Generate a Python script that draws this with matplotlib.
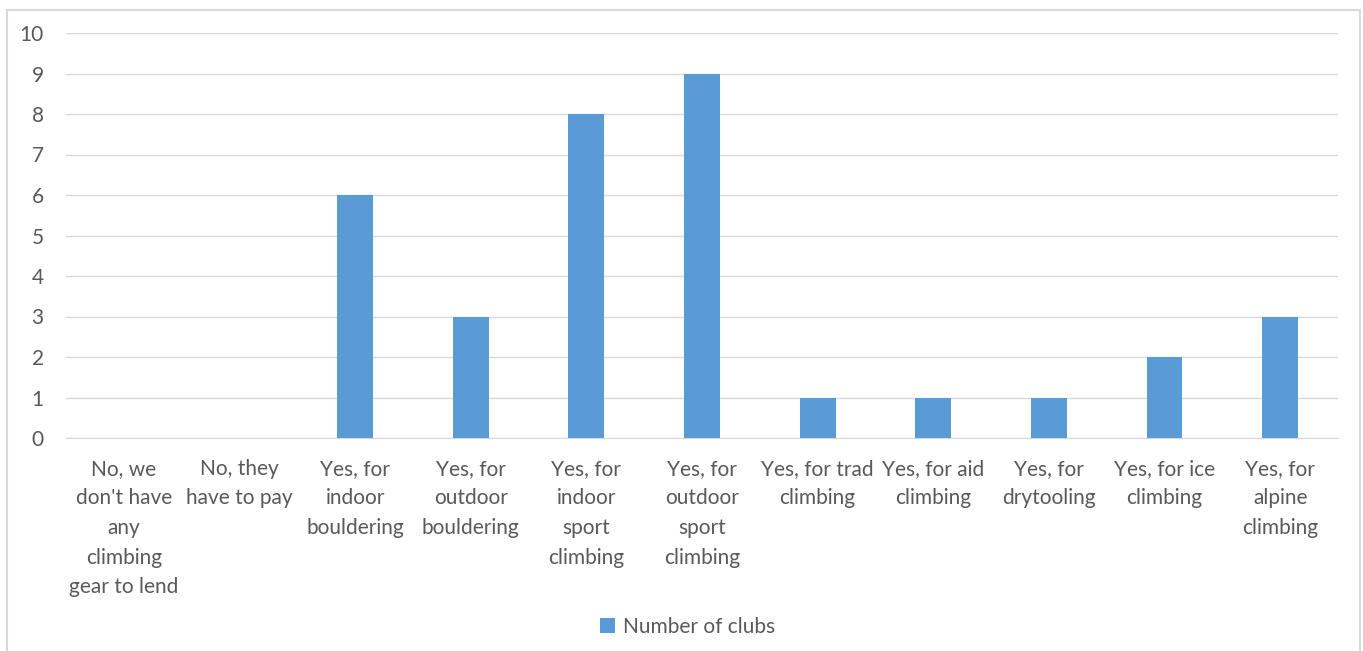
#!/usr/bin/env python3

import matplotlib
matplotlib.use("Agg")
from matplotlib import pyplot as plt
from matplotlib.patches import Rectangle

categories = [
    "No, we\ndon't have\nany\nclimbing\ngear to lend",
    "No, they\nhave to pay",
    "Yes, for\nindoor\nbouldering",
    "Yes, for\noutdoor\nbouldering",
    "Yes, for\nindoor\nsport\nclimbing",
    "Yes, for\noutdoor\nsport\nclimbing",
    "Yes, for trad\nclimbing",
    "Yes, for aid\nclimbing",
    "Yes, for\ndrytooling",
    "Yes, for ice\nclimbing",
    "Yes, for\nalpine\nclimbing",
]
clubs = [0, 0, 6, 3, 8, 9, 1, 1, 1, 2, 3]
series_name = "Number of clubs"


def main():
    plt.rcParams['font.family'] = ['Lato', 'DejaVu Sans']
    text_color = "#595959"
    grid_color = "#d9d9d9"

    fig = plt.figure(figsize=(13.63, 6.51), dpi=100)
    fig.patches.append(Rectangle((7 / 1363, -0.05), (1360 - 7) / 1363, 1.05 - 10 / 651,
                                 transform=fig.transFigure, fill=False,
                                 edgecolor=grid_color, linewidth=1.5))
    ax = fig.add_axes([66 / 1363, 1 - 438 / 651, (1338 - 66) / 1363, (438 - 33) / 651])

    x = range(len(categories))
    ax.bar(x, clubs, width=0.31, color="#5B9BD5", label=series_name, zorder=3)

    ax.set_xlim(-0.5, len(categories) - 0.5)
    ax.set_ylim(0, 10)
    ax.set_yticks(range(0, 11))
    ax.yaxis.grid(True, color=grid_color, linewidth=1, zorder=0)
    for side in ["top", "right", "left"]:
        ax.spines[side].set_visible(False)
    ax.spines["bottom"].set_color(grid_color)
    ax.tick_params(axis="both", length=0, colors=text_color, labelsize=15)
    ax.tick_params(axis="y", pad=16)
    ax.tick_params(axis="x", pad=15)
    ax.set_xticks(list(x))
    ax.set_xticklabels(categories, va="top", ha="center", linespacing=1.6)

    fig.legend(loc="center", bbox_to_anchor=(688 / 1363, 1 - 627 / 651), frameon=False,
               fontsize=15, labelcolor=text_color, handlelength=0.7, handleheight=0.7,
               handletextpad=0.4)

    fig.savefig("out.png", dpi=100)


if __name__ == "__main__":
    main()
